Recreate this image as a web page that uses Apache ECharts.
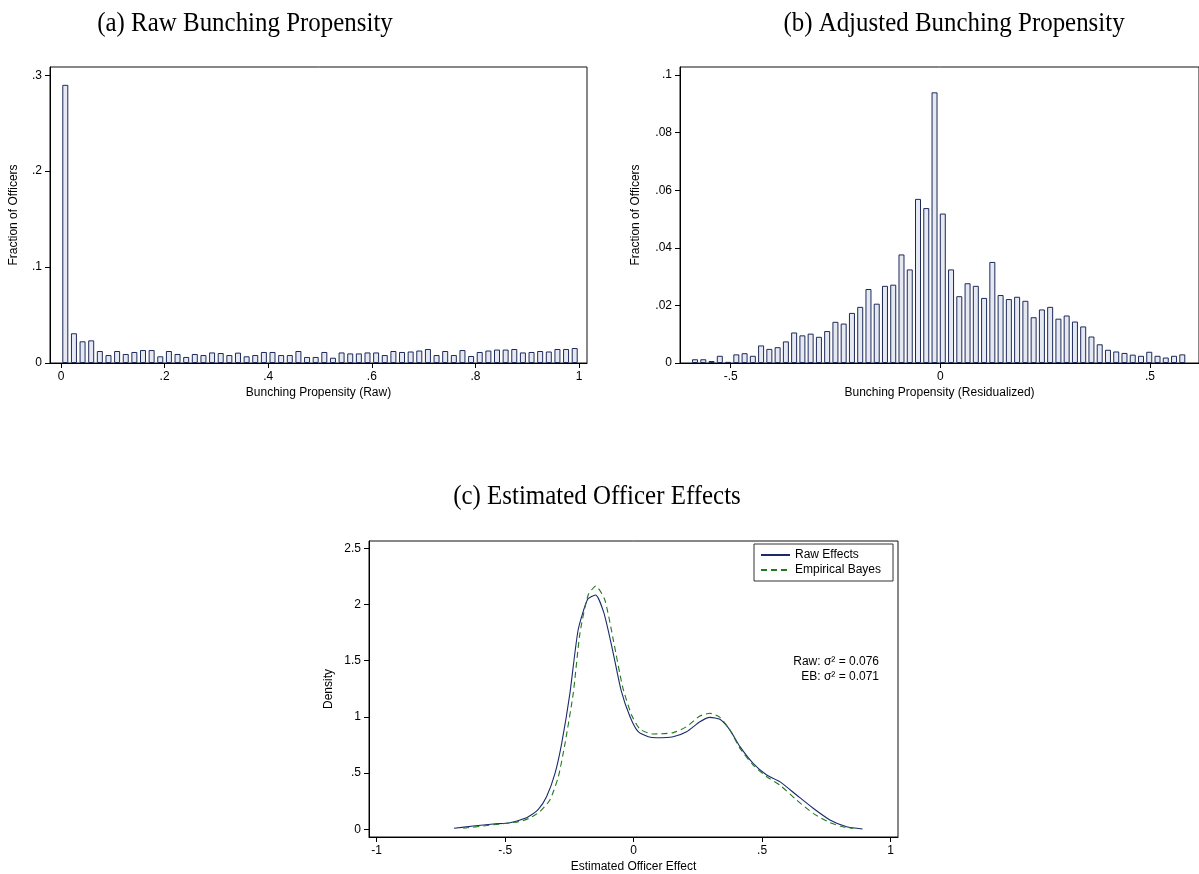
<!DOCTYPE html>
<html>
<head>
<meta charset="utf-8">
<script src="https://cdn.jsdelivr.net/npm/echarts@6/dist/echarts.min.js"></script>
<style>
  html, body { margin: 0; padding: 0; background: #fff; overflow: hidden; }
  #main { width: 1199px; height: 874px; }
</style>
</head>
<body>
<div id="main"></div>
<script>
// (a) raw bunching propensity: 60 bins on [0, 1]
var rawBinStart = 0, rawBinWidth = 1 / 60;
var rawShares = [
  0.290, 0.031, 0.0226, 0.0236, 0.0125, 0.0083, 0.0125, 0.0094, 0.0115, 0.0135,
  0.0135, 0.0070, 0.0125, 0.0094, 0.0063, 0.0094, 0.0083, 0.0110, 0.0104, 0.0083,
  0.0108, 0.0070, 0.0083, 0.0115, 0.0115, 0.0083, 0.0083, 0.0125, 0.0063, 0.0063,
  0.0115, 0.0055, 0.0110, 0.0100, 0.0100, 0.0110, 0.0110, 0.0083, 0.0125, 0.0115,
  0.0120, 0.0130, 0.0146, 0.0083, 0.0125, 0.0083, 0.0135, 0.0073, 0.0115, 0.0130,
  0.0140, 0.0140, 0.0146, 0.0110, 0.0115, 0.0125, 0.0120, 0.0146, 0.0146, 0.0156
];
// (b) residualized bunching propensity
var resBinStart = -0.595, resBinWidth = 0.0197;
var resShares = [
  0.0013, 0.0013, 0.0007, 0.0025, 0.0004, 0.0030, 0.0034, 0.0025, 0.0061, 0.0049,
  0.0055, 0.0075, 0.0106, 0.0096, 0.0102, 0.0091, 0.0111, 0.0143, 0.0137, 0.0174,
  0.0195, 0.0257, 0.0206, 0.0268, 0.0272, 0.0377, 0.0325, 0.0570, 0.0538, 0.0940,
  0.0519, 0.0325, 0.0232, 0.0277, 0.0268, 0.0226, 0.0351, 0.0236, 0.0222, 0.0230,
  0.0216, 0.0159, 0.0186, 0.0195, 0.0154, 0.0165, 0.0144, 0.0127, 0.0092, 0.0065,
  0.0046, 0.0040, 0.0035, 0.0029, 0.0025, 0.0039, 0.0025, 0.0019, 0.0025, 0.0030
];
// (c) kernel densities of estimated officer effects
var rawEffX = [-0.699, -0.624, -0.546, -0.481, -0.442, -0.410, -0.371, -0.339, -0.306, -0.280,
  -0.248, -0.216, -0.179, -0.148, -0.116, -0.082, -0.049, -0.014, 0.018, 0.057,
  0.089, 0.154, 0.206, 0.258, 0.297, 0.336, 0.375, 0.414, 0.465, 0.518,
  0.569, 0.634, 0.699, 0.764, 0.829, 0.891];
var rawEffY = [0.009, 0.029, 0.047, 0.059, 0.083, 0.112, 0.178, 0.290, 0.498, 0.765,
  1.210, 1.773, 2.046, 2.085, 1.927, 1.595, 1.239, 1.002, 0.868, 0.824,
  0.815, 0.824, 0.868, 0.957, 0.996, 0.979, 0.883, 0.735, 0.587, 0.483,
  0.424, 0.305, 0.187, 0.083, 0.023, 0.003];
var ebEffX = [-0.663, -0.546, -0.442, -0.404, -0.365, -0.326, -0.293, -0.267, -0.235, -0.209,
  -0.177, -0.147, -0.112, -0.079, -0.043, -0.008, 0.025, 0.076, 0.154, 0.206,
  0.258, 0.297, 0.336, 0.375, 0.414, 0.465, 0.518, 0.569, 0.634, 0.699,
  0.764, 0.822, 0.855];
var ebEffY = [0.010, 0.040, 0.070, 0.100, 0.157, 0.260, 0.468, 0.765, 1.210, 1.744,
  2.085, 2.165, 2.040, 1.684, 1.269, 1.017, 0.890, 0.848, 0.860, 0.913,
  1.008, 1.032, 0.996, 0.883, 0.720, 0.572, 0.468, 0.394, 0.261, 0.142,
  0.059, 0.018, 0.009];

var aTicksX = [0, 0.2, 0.4, 0.6, 0.8, 1];
var aTicksY = [0, 0.1, 0.2, 0.3];
var bTicksX = [-0.5, 0, 0.5];
var bTicksY = [0, 0.02, 0.04, 0.06, 0.08, 0.1];
var cTicksX = [-1, -0.5, 0, 0.5, 1];
var cTicksY = [0, 0.5, 1, 1.5, 2, 2.5];

var SANS = '"Liberation Sans", Arial, sans-serif';
var SERIF = '"Liberation Serif", "DejaVu Serif", serif';
var BAR_FILL = '#e6e9f1', BAR_EDGE = '#1c2a5a';

function stata(v) {
  var s = String(+(+v).toFixed(4));
  return s.replace(/^(-?)0\./, '$1.');
}
function histData(start, width, shares) {
  return shares.map(function (h, i) { return [start + (i + 0.5) * width, h]; });
}
function zip(xs, ys) { return xs.map(function (x, i) { return [x, ys[i]]; }); }

function axis(ticks, extra) {
  var o = {
    type: 'value',
    scale: true,
    axisLine: { show: true, onZero: false, lineStyle: { color: '#000', width: 1 } },
    axisTick: { show: true, length: 5, customValues: ticks, lineStyle: { color: '#000' } },
    axisLabel: { customValues: ticks, formatter: stata, color: '#000', fontFamily: SANS, fontSize: 12 },
    splitLine: { show: false },
    nameLocation: 'middle',
    nameTextStyle: { color: '#000', fontFamily: SANS, fontSize: 12 }
  };
  for (var k in extra) o[k] = extra[k];
  return o;
}
function title(text, x, y) {
  // Computer Modern is taller for its width than Times, so squeeze a larger size
  return {
    type: 'text', x: x, y: y, scaleX: 0.89,
    style: { text: text, font: '28px ' + SERIF, fill: '#000', align: 'center', verticalAlign: 'middle' }
  };
}

var chart = echarts.init(document.getElementById('main'), null, { renderer: 'canvas' });

chart.setOption({
  animation: false,
  backgroundColor: '#fff',
  grid: [
    { left: 50, top: 67, width: 537, height: 296, show: true, borderColor: '#111', borderWidth: 1 },
    { left: 680, top: 67, width: 536, height: 296, show: true, borderColor: '#111', borderWidth: 1 },
    { left: 369, top: 541, width: 529, height: 296, show: true, borderColor: '#111', borderWidth: 1 }
  ],
  xAxis: [
    axis(aTicksX, { gridIndex: 0, min: -0.0212, max: 1.0154, name: 'Bunching Propensity (Raw)', nameGap: 24 }),
    axis(bTicksX, { gridIndex: 1, min: -0.621, max: 0.617, name: 'Bunching Propensity (Residualized)', nameGap: 24 }),
    axis(cTicksX, { gridIndex: 2, min: -1.03, max: 1.029, name: 'Estimated Officer Effect', nameGap: 24 })
  ],
  yAxis: [
    axis(aTicksY, { gridIndex: 0, min: 0, max: 0.3086, name: 'Fraction of Officers', nameGap: 30 }),
    axis(bTicksY, { gridIndex: 1, min: 0, max: 0.1028, name: 'Fraction of Officers', nameGap: 38 }),
    axis(cTicksY, { gridIndex: 2, min: -0.0685, max: 2.565, name: 'Density', nameGap: 34 })
  ],
  legend: {
    data: ['Raw Effects', 'Empirical Bayes'],
    orient: 'vertical',
    left: 754, top: 544,
    itemWidth: 29, itemHeight: 12, itemGap: 3,
    padding: [5, 12, 5, 6],
    borderColor: '#333', borderWidth: 1,
    backgroundColor: '#fff',
    itemStyle: { opacity: 0 },
    textStyle: { color: '#000', fontFamily: SANS, fontSize: 12 }
  },
  series: [
    {
      type: 'bar', xAxisIndex: 0, yAxisIndex: 0, barWidth: 6,
      data: histData(rawBinStart, rawBinWidth, rawShares),
      itemStyle: { color: BAR_FILL, borderColor: BAR_EDGE, borderWidth: 1 }
    },
    {
      type: 'bar', xAxisIndex: 1, yAxisIndex: 1, barWidth: 6,
      data: histData(resBinStart, resBinWidth, resShares),
      itemStyle: { color: BAR_FILL, borderColor: BAR_EDGE, borderWidth: 1 }
    },
    {
      name: 'Raw Effects', type: 'line', xAxisIndex: 2, yAxisIndex: 2,
      data: zip(rawEffX, rawEffY), symbol: 'none', smooth: 0.2,
      lineStyle: { color: '#1a2a6c', width: 1.1 }, itemStyle: { color: '#1a2a6c' }
    },
    {
      name: 'Empirical Bayes', type: 'line', xAxisIndex: 2, yAxisIndex: 2,
      data: zip(ebEffX, ebEffY), symbol: 'none', smooth: 0.2,
      lineStyle: { color: '#1f7a1f', width: 1.1, type: [6, 4] }, itemStyle: { color: '#1f7a1f' }
    }
  ],
  graphic: [
    title('(a) Raw Bunching Propensity', 245, 24),
    title('(b) Adjusted Bunching Propensity', 954, 24),
    title('(c) Estimated Officer Effects', 597, 497),
    { type: 'text', x: 879, y: 662, style: { text: 'Raw: \u03c3\u00b2 = 0.076', font: '12px ' + SANS, fill: '#000', align: 'right', verticalAlign: 'middle' } },
    { type: 'text', x: 879, y: 677, style: { text: 'EB: \u03c3\u00b2 = 0.071', font: '12px ' + SANS, fill: '#000', align: 'right', verticalAlign: 'middle' } }
  ]
});
</script>
</body>
</html>
